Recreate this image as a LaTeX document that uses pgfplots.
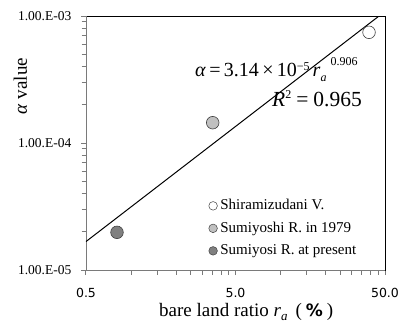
\documentclass[border=0pt]{standalone}
\usepackage{fontspec}
\setmainfont{Liberation Serif}
\newfontfamily\dejavu{DejaVu Sans}
\usepackage{pgfplots}
\pgfplotsset{compat=1.18}
\definecolor{lgray}{HTML}{C0C0C0}
\definecolor{dgray}{HTML}{808080}
\definecolor{axgray}{HTML}{7A7A7A}
\begin{document}
\begin{tikzpicture}
\path[use as bounding box] (0,0) rectangle (401pt,324pt);
\begin{axis}[
 at={(86pt,54pt)}, anchor=south west,
 width=299pt, height=254pt, scale only axis,
 xmode=log, ymode=log,
 xmin=0.5, xmax=50, ymin=1e-5, ymax=1e-3,
 xtick={0.5,5,50}, xticklabels={0.5,5.0,50.0},
 ytick={1e-5,1e-4,1e-3}, yticklabels={1.00.E-05,1.00.E-04,1.00.E-03},
 minor xtick={1,1.5,2,2.5,3,3.5,4,4.5,10,15,20,25,30,35,40,45},
 minor ytick={2e-5,3e-5,4e-5,5e-5,6e-5,7e-5,8e-5,9e-5,2e-4,3e-4,4e-4,5e-4,6e-4,7e-4,8e-4,9e-4},
 tick align=outside, xtick pos=bottom, ytick pos=left,
 major tick length=5pt, minor tick length=4.5pt,
 every tick/.style={axgray, line width=1pt},
 every minor tick/.style={axgray, line width=1pt},
 axis line style={black, line width=0.8pt},
 xticklabel style={font=\dejavu\fontsize{12.5}{12.5}\selectfont, inner sep=0pt, anchor=north, yshift=-13.2pt},
 yticklabel style={font=\fontsize{13.5}{13.5}\selectfont, inner sep=0pt, anchor=east, xshift=-9.5pt},
 clip mode=individual,
 legend style={draw=none, fill=none, at={(axis description cs:0.41,0.164)}, anchor=west,
   font=\fontsize{15}{15}\selectfont, row sep=8.5pt, inner sep=0pt,
   nodes={inner sep=0pt, text height=11pt, text depth=3pt}},
 legend cell align=left,
 legend image code/.code={\draw[#1, mark size=4.3pt, line width=0.5pt] plot coordinates {(0pt,0pt)};},
]
\draw[axgray, line width=0.9pt] (rel axis cs:0,1) -- (rel axis cs:0,0) -- (rel axis cs:1,0);
\addplot[black, line width=1pt, forget plot] coordinates {(0.5,1.675e-5) (45.6,1e-3)};
\addplot[only marks, mark=*, mark size=6.3pt, draw=black!75, fill=white, line width=0.6pt] coordinates {(39.1,7.44e-4)};
\addlegendentry{\hspace{3pt}Shiramizudani V.}
\addplot[only marks, mark=*, mark size=6.3pt, draw=black!75, fill=lgray, line width=0.6pt] coordinates {(3.52,1.445e-4)};
\addlegendentry{\hspace{3pt}Sumiyoshi R. in 1979}
\addplot[only marks, mark=*, mark size=6.3pt, draw=black!75, fill=dgray, line width=0.6pt] coordinates {(0.806,1.98e-5)};
\addlegendentry{\hspace{3pt}Sumiyosi R. at present}
\node[anchor=base west, inner sep=0pt] at (axis description cs:0.3645,0.760)
 {\fontsize{20}{20}\selectfont\textit{α}\,=\,3.14\,×\,10\raisebox{6pt}{\fontsize{12}{12}\selectfont −5}\hspace{3pt}\textit{r}\raisebox{-5pt}{\fontsize{12}{12}\selectfont\textit{a}}\hspace{4pt}\raisebox{11pt}{\fontsize{12}{12}\selectfont 0.906}};
\node[anchor=base west, inner sep=0pt] at (axis description cs:0.622,0.642)
 {\fontsize{21.5}{21.5}\selectfont\textit{R}\raisebox{8pt}{\fontsize{12}{12}\selectfont 2}\hspace{5pt}=\hspace{5pt}0.965};
\node[anchor=base, inner sep=0pt, rotate=90] at (axis description cs:-0.198,0.724)
 {\fontsize{19}{19}\selectfont\textit{α} value};
\node[anchor=base west, inner sep=0pt] at (axis description cs:0.244,-0.182)
 {\fontsize{19}{19}\selectfont bare land ratio \textit{r}\raisebox{-4pt}{\fontsize{13}{13}\selectfont\textit{a}}\hspace{8pt}(\hspace{4pt}{\dejavu\bfseries\fontsize{17}{17}\selectfont\%}\hspace{4pt})};
\end{axis}
\end{tikzpicture}
\end{document}
